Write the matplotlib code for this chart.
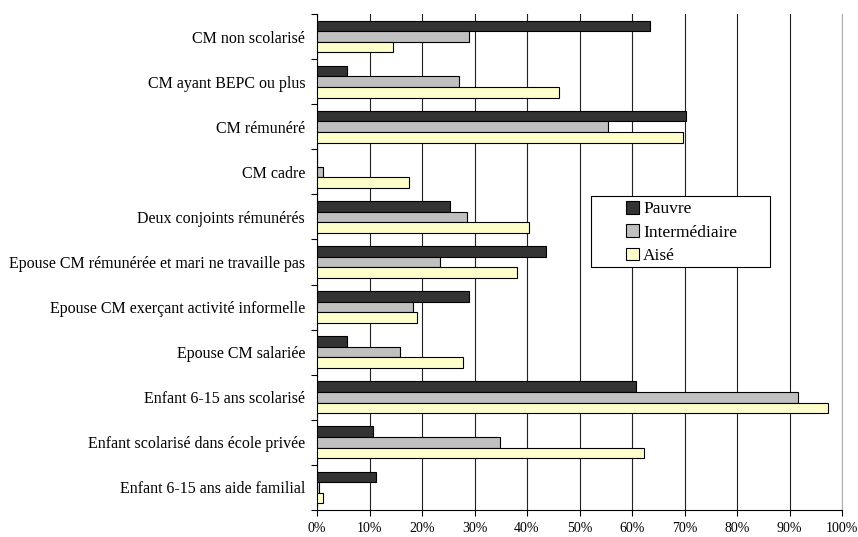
import numpy as np
import matplotlib
matplotlib.use("Agg")
import matplotlib.pyplot as plt
from matplotlib.patches import Rectangle
from matplotlib.ticker import FixedLocator, PercentFormatter

categories = [
    "CM non scolarisé",
    "CM ayant BEPC ou plus",
    "CM rémunéré",
    "CM cadre",
    "Deux conjoints rémunérés",
    "Epouse CM rémunérée et mari ne travaille pas",
    "Epouse CM exerçant activité informelle",
    "Epouse CM salariée",
    "Enfant 6-15 ans scolarisé",
    "Enfant scolarisé dans école privée",
    "Enfant 6-15 ans aide familial",
]
pauvre = [63.4, 5.8, 70.2, 0.0, 25.4, 43.7, 29.0, 5.8, 60.8, 10.6, 11.3]
intermediaire = [29.0, 27.1, 55.4, 1.2, 28.6, 23.5, 18.2, 15.8, 91.7, 34.9, 0.3]
aise = [14.5, 46.1, 69.7, 17.6, 40.4, 38.0, 19.1, 27.8, 97.3, 62.3, 1.2]

series = [("Pauvre", pauvre, "#333333"),
          ("Intermédiaire", intermediaire, "#c0c0c0"),
          ("Aisé", aise, "#ffffcc")]

plt.rcParams['font.family'] = ['Liberation Serif', 'DejaVu Serif']

W, H = 858, 537
fig = plt.figure(figsize=(W / 100, H / 100), dpi=100)
left, right, top, bottom = 317, 842, 14, 510
ax = fig.add_axes([left / W, 1 - bottom / H, (right - left) / W, (bottom - top) / H])

y = np.arange(len(categories))
h = 0.235
for i, (name, vals, col) in enumerate(series):
    ax.barh(y + (i - 1) * h, vals, height=h, color=col, edgecolor="black",
            linewidth=0.8, label=name, zorder=3)

ax.set_xlim(0, 100)
ax.set_ylim(len(categories) - 0.5, -0.5)

ax.set_xticks(np.arange(0, 101, 10))
ax.xaxis.set_major_formatter(PercentFormatter(decimals=0))
ax.tick_params(axis="x", direction="out", length=4, width=0.8, pad=5, labelsize=10)

ax.set_yticks(y)
ax.set_yticklabels(categories)
ax.tick_params(axis="y", which="major", length=0, pad=8.5, labelsize=11.5)
ax.yaxis.set_minor_locator(FixedLocator(np.arange(-0.5, len(categories), 1)))
ax.tick_params(axis="y", which="minor", direction="out", length=4, width=0.8)

ax.grid(axis="x", color="#202020", linewidth=0.8, zorder=0)
ax.set_axisbelow(True)

ax.spines["top"].set_visible(False)
ax.spines["right"].set_color("#b0b0b0")
ax.spines["left"].set_linewidth(0.8)
ax.spines["bottom"].set_linewidth(0.8)

# legend frame drawn separately so the entries sit centred in a wider box
lx0, lx1, ly0, ly1 = 591, 770, 196, 267
fx = (lx0 - left) / (right - left)
fw = (lx1 - lx0) / (right - left)
fy = 1 - (ly1 - top) / (bottom - top)
fh = (ly1 - ly0) / (bottom - top)
ax.add_patch(Rectangle((fx, fy), fw, fh, transform=ax.transAxes,
                       facecolor="white", edgecolor="black", linewidth=0.8,
                       zorder=5))
leg = ax.legend(loc="center", bbox_to_anchor=(fx + fw / 2 + 0.002, fy + fh / 2 - 0.002),
                frameon=False, handlelength=0.72, handleheight=0.72,
                handletextpad=0.25, labelspacing=0.4, fontsize=12.5)
leg.set_zorder(6)

fig.savefig("out.png", dpi=100)
